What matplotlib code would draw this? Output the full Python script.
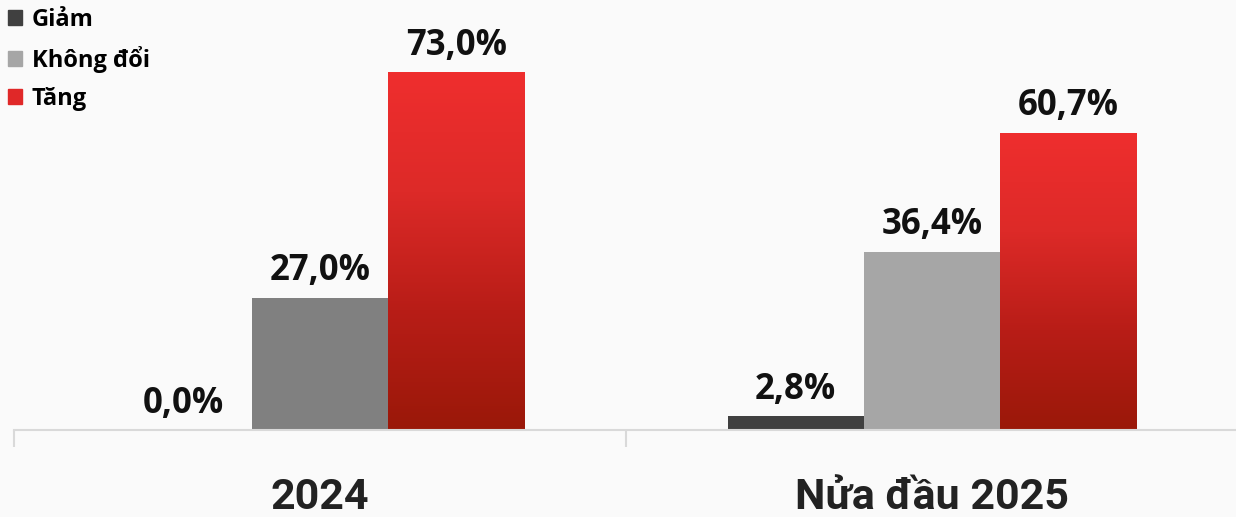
import matplotlib
matplotlib.use("Agg")
import matplotlib.pyplot as plt
import numpy as np
from matplotlib.colors import LinearSegmentedColormap
from matplotlib.patches import Patch

categories = ["2024", "Nửa đầu 2025"]
series_names = ["Giảm", "Không đổi", "Tăng"]
giam = [0.0, 2.8]
khong_doi = [27.0, 36.4]
tang = [73.0, 60.7]
labels_giam = ["0,0%", "2,8%"]
labels_khong = ["27,0%", "36,4%"]
labels_tang = ["73,0%", "60,7%"]

W, H = 1236, 517
fig = plt.figure(figsize=(W / 100, H / 100), dpi=100)
bg = "#fafafa"
fig.patch.set_facecolor(bg)
ax = fig.add_axes([14 / W, (H - 430) / H, 1224 / W, 430 / H])
ax.set_facecolor(bg)

x = np.arange(len(categories))
bw = 0.2227
red_cmap = LinearSegmentedColormap.from_list("r", ["#9a1809", "#b81d17", "#dd2a28", "#ef2e2e"])

b1 = ax.bar(x - bw, giam, bw, color="#404040", zorder=2)
b2 = ax.bar(x, khong_doi, bw, color=["#808080", "#a6a6a6"], zorder=2)
b3 = ax.bar(x + bw, tang, bw, color="none", zorder=2)

ax.set_xlim(-0.5, 1.5)
ax.set_ylim(0, 87.8)

grad = np.linspace(0, 1, 256).reshape(-1, 1)
for p in b3:
    x0, y0, w, h = p.get_x(), p.get_y(), p.get_width(), p.get_height()
    im = ax.imshow(grad, extent=[x0, x0 + w, y0, y0 + h], origin="lower",
                   cmap=red_cmap, aspect="auto", zorder=2)
    im.set_clip_path(p)

vfont = dict(family="Open Sans", fontweight="bold", fontsize=25, color="#111111",
             ha="center", va="bottom")
for bars, labs in [(b1, labels_giam), (b2, labels_khong), (b3, labels_tang)]:
    for p, lab in zip(bars, labs):
        ax.annotate(lab, (p.get_x() + p.get_width() / 2, p.get_height()),
                    xytext=(0, 6), textcoords="offset points", **vfont)

for s in ["top", "right", "left"]:
    ax.spines[s].set_visible(False)
ax.spines["bottom"].set_color("#d9d9d9")
ax.spines["bottom"].set_linewidth(1.5)
ax.set_yticks([])
ax.set_xticks([-0.5, 0.5], minor=False)
ax.set_xticklabels([])
ax.tick_params(axis="x", length=12, width=1.5, color="#d9d9d9")
for xi, c in zip(x, categories):
    ax.text(xi, -0.158, c, transform=ax.get_xaxis_transform(), ha="center", va="center",
            family="Roboto", fontweight="bold", fontsize=31, color="#222222")

handles = [Patch(color="#404040"), Patch(color="#a6a6a6"), Patch(color="#e02828")]
leg = fig.legend(handles, series_names, loc="upper left", bbox_to_anchor=(0.0, 1.0),
                 frameon=False, handlelength=0.6, handleheight=0.6, handletextpad=0.4,
                 labelspacing=0.58, borderaxespad=0.15, borderpad=0.2,
                 prop=dict(family="Open Sans", weight="bold", size=17))

fig.savefig("out.png", dpi=100, facecolor=bg)
